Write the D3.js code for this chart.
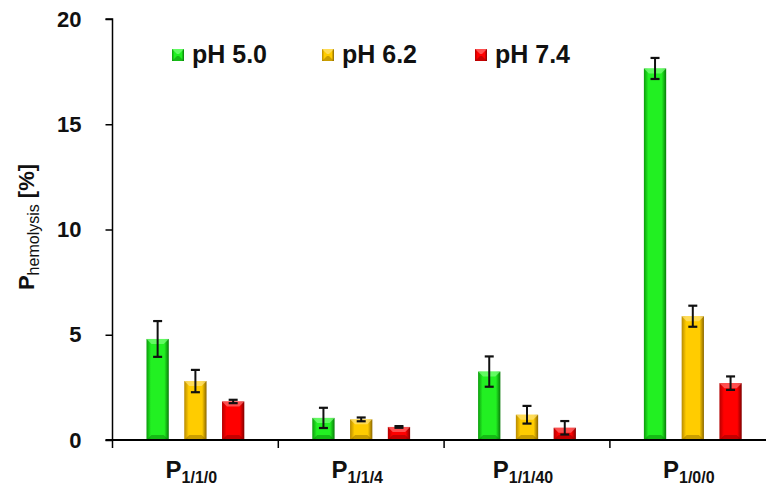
<!DOCTYPE html>
<html>
<head>
<meta charset="utf-8">
<script src="https://cdn.jsdelivr.net/npm/d3@7"></script>
<style>
  body { margin: 0; background: #fff; }
  svg { display: block; font-family: "Liberation Sans", Arial, sans-serif; }
</style>
</head>
<body>
<div id="chart"></div>
<script>
// data
var samples = ["1/1/0", "1/1/4", "1/1/40", "1/0/0"];
var series = ["pH 5.0", "pH 6.2", "pH 7.4"];
var ph50 = [4.8, 1.05, 3.25, 17.65];
var ph62 = [2.8, 0.98, 1.2, 5.88];
var ph74 = [1.83, 0.62, 0.58, 2.7];
var err50 = [0.85, 0.48, 0.72, 0.5];
var err62 = [0.53, 0.09, 0.42, 0.5];
var err74 = [0.08, 0.04, 0.32, 0.32];
var yTicks = [0, 5, 10, 15, 20];

var colors = [
    { mid: "#22f022", edge: "#0b9c0b", light: "#7dff7d", dark: "#087a08" },
    { mid: "#ffcc00", edge: "#b88a00", light: "#ffe27a", dark: "#8a6600" },
    { mid: "#ff0000", edge: "#b30000", light: "#ff7070", dark: "#800000" }
];

var values = [ph50, ph62, ph74];
var errors = [err50, err62, err74];

var W = 767, H = 488;
var svg = d3.select("#chart").append("svg").attr("width", W).attr("height", H);

var x0 = 112.5, yBase = 440;
var groupW = 165.8;
var x = d3.scaleBand().domain(samples).range([x0, x0 + groupW * 4]);
var xs = d3.scaleBand().domain(series).range([0, groupW]).paddingInner(0.41).paddingOuter(0.9);
var y = d3.scaleLinear().domain([0, 20]).range([yBase, 19]);

//gradients for the bevel look
var defs = svg.append("defs");
colors.forEach(function (c, i) {
    var g = defs.append("linearGradient").attr("id", "g" + i)
        .attr("x1", "0").attr("x2", "1").attr("y1", "0").attr("y2", "0");
    g.append("stop").attr("offset", "0").attr("stop-color", c.edge);
    g.append("stop").attr("offset", "0.2").attr("stop-color", c.mid);
    g.append("stop").attr("offset", "0.8").attr("stop-color", c.mid);
    g.append("stop").attr("offset", "1").attr("stop-color", c.dark);
});

function drawBar(sel, bx, by, bw, bh, i) {
    var c = colors[i];
    sel.append("rect").attr("x", bx).attr("y", by).attr("width", bw).attr("height", bh)
        .attr("fill", "url(#g" + i + ")");
    var b = Math.min(5, bh / 2);
    // top bevel
    sel.append("path")
        .attr("d", "M" + bx + "," + by + "L" + (bx + bw) + "," + by + "L" + (bx + bw - b) + "," + (by + b) + "L" + (bx + b) + "," + (by + b) + "Z")
        .attr("fill", c.light).attr("opacity", 0.7);
    // bottom bevel
    sel.append("path")
        .attr("d", "M" + bx + "," + (by + bh) + "L" + (bx + bw) + "," + (by + bh) + "L" + (bx + bw - b) + "," + (by + bh - b) + "L" + (bx + b) + "," + (by + bh - b) + "Z")
        .attr("fill", c.dark).attr("opacity", 0.45);
}

var bars = svg.append("g");
samples.forEach(function (s, k) {
    series.forEach(function (ser, i) {
        var v = values[i][k], e = errors[i][k];
        var bx = x(s) + xs(ser), bw = xs.bandwidth();
        var g = bars.append("g");
        drawBar(g, bx, y(v), bw, yBase - y(v), i);
        var cx = bx + bw / 2;
        g.append("line").attr("x1", cx).attr("x2", cx).attr("y1", y(v + e)).attr("y2", y(v - e))
            .attr("stroke", "#111").attr("stroke-width", 2);
        [v + e, v - e].forEach(function (t) {
            g.append("line").attr("x1", cx - 4.5).attr("x2", cx + 4.5).attr("y1", y(t)).attr("y2", y(t))
                .attr("stroke", "#111").attr("stroke-width", 2.2);
        });
    });
});

// y axis
var yAxis = svg.append("g").attr("transform", "translate(" + x0 + ",0)")
    .call(d3.axisLeft(y).tickValues(yTicks).tickSize(7).tickPadding(24));
yAxis.select(".domain").attr("stroke", "#000").attr("stroke-width", 1.5).attr("d", "M-7," + y(20) + "H0V" + yBase);
yAxis.selectAll(".tick line").attr("stroke", "#000").attr("stroke-width", 1.5);
yAxis.selectAll(".tick text").attr("font-size", 22).attr("font-weight", "bold")
    .attr("fill", "#111").attr("font-family", "Liberation Sans, Arial, sans-serif");

// x axis
var xAxisG = svg.append("g").attr("transform", "translate(0," + yBase + ")");
xAxisG.append("line").attr("x1", x0 - 7).attr("x2", 766).attr("y1", 0).attr("y2", 0)
    .attr("stroke", "#000").attr("stroke-width", 2);
xAxisG.selectAll("line.tk").data(samples).enter().append("line").attr("class", "tk")
    .attr("x1", function (d) { return x(d); }).attr("x2", function (d) { return x(d); })
    .attr("y1", 0).attr("y2", 8).attr("stroke", "#000").attr("stroke-width", 1.5);
var xl = xAxisG.selectAll("text.cat").data(samples).enter().append("text").attr("class", "cat")
    .attr("x", function (d) { return x(d) + x.bandwidth() / 2 - 4; })
    .attr("y", 38).attr("text-anchor", "middle").attr("font-weight", "bold").attr("fill", "#111");
xl.append("tspan").attr("font-size", 24).text("P");
xl.append("tspan").attr("font-size", 16).attr("dy", 5).text(function (d) { return d; });

// y label
var yl = svg.append("text").attr("transform", "translate(34,227) rotate(-90)")
    .attr("text-anchor", "middle").attr("fill", "#111");
yl.append("tspan").attr("font-size", 22).attr("font-weight", "bold").text("P");
yl.append("tspan").attr("font-size", 16).attr("dy", 5).text("hemolysis");
yl.append("tspan").attr("font-size", 22).attr("font-weight", "bold").attr("dy", -5).text(" [%]");

// legend
var legX = [172, 322, 475];
var leg = svg.append("g");
series.forEach(function (s, i) {
    var lg = leg.append("g").attr("transform", "translate(" + legX[i] + ",49)");
    drawBar(lg, 0, 0, 12, 12, i);
    lg.append("text").attr("x", 20).attr("y", 14).attr("font-size", 25).attr("font-weight", "bold")
        .attr("fill", "#111").text(s);
});
</script>
</body>
</html>
